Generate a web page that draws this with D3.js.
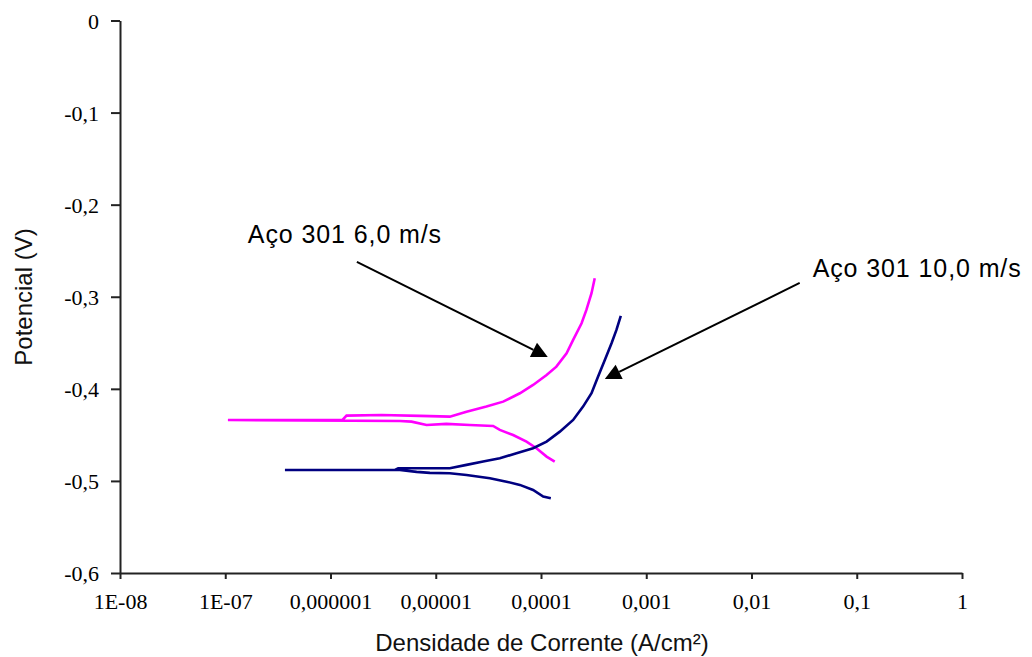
<!DOCTYPE html>
<html>
<head>
<meta charset="utf-8">
<script src="https://cdn.jsdelivr.net/npm/d3@7"></script>
<style>
  html, body { margin: 0; padding: 0; background: #fff; }
  svg { display: block; }
</style>
</head>
<body>
<svg id="chart" width="1032" height="657"></svg>
<script>
// Potentiodynamic polarization curves of 301 steel (current density vs potential)

// Tick values and labels
const xTicks = [1e-8, 1e-7, 1e-6, 1e-5, 1e-4, 1e-3, 1e-2, 1e-1, 1];
const xTickLabels = ["1E-08", "1E-07", "0,000001", "0,00001", "0,0001", "0,001", "0,01", "0,1", "1"];
const yTicks = [0, -0.1, -0.2, -0.3, -0.4, -0.5, -0.6];
const yTickLabels = ["0", "-0,1", "-0,2", "-0,3", "-0,4", "-0,5", "-0,6"];

// Series: Aço 301 6,0 m/s (current density A/cm², potential V)
const s6Current = [
  1.35e-4, 1.13e-4, 9.06e-5, 7.28e-5, 5.43e-5, 4.06e-5, 3.51e-5, 2.11e-5, 1.26e-5,
  8.18e-6, 5.89e-6, 4.56e-6, 1.06e-7, 1.30e-6, 1.42e-6, 3.05e-6, 7.06e-6, 1.36e-5,
  1.96e-5, 3.03e-5, 4.37e-5, 6.30e-5, 8.41e-5, 1.13e-4, 1.40e-4, 1.75e-4,
  2.02e-4, 2.43e-4, 2.70e-4, 3.02e-4, 3.24e-4
];
const s6Potential = [
  -0.479, -0.4736, -0.4645, -0.4573, -0.4501, -0.4446, -0.4403, -0.4392, -0.4381,
  -0.4392, -0.4356, -0.4349, -0.4338, -0.4338, -0.4291, -0.4284, -0.4294, -0.4302,
  -0.4248, -0.4193, -0.4139, -0.4048, -0.3958, -0.3849, -0.3759, -0.3614,
  -0.3469, -0.3288, -0.3143, -0.2962, -0.2799
];

// Series: Aço 301 10,0 m/s
const s10Current = [
  1.24e-4, 1.05e-4, 8.41e-5, 6.30e-5, 4.70e-5, 3.27e-5, 1.96e-5, 1.36e-5, 8.79e-6,
  6.58e-6, 4.56e-6, 3.69e-7, 4.10e-6, 4.40e-6, 1.36e-5, 1.96e-5, 2.82e-5, 4.06e-5,
  5.85e-5, 8.41e-5, 1.13e-4, 1.51e-4, 2.02e-4, 2.51e-4, 3.02e-4, 3.48e-4,
  4.04e-4, 4.68e-4, 5.21e-4, 5.73e-4
];
const s10Potential = [
  -0.5188, -0.5170, -0.5098, -0.5043, -0.5008, -0.4971, -0.4935, -0.4916, -0.4913,
  -0.4902, -0.4881, -0.4881, -0.4881, -0.4862, -0.4862, -0.4826, -0.4790, -0.4754,
  -0.4699, -0.4645, -0.4573, -0.4465, -0.4338, -0.4193, -0.4048, -0.3868,
  -0.3686, -0.3505, -0.3360, -0.3208
];

// Callout labels with their arrows (data coordinates)
const calloutText = ["Aço 301 6,0 m/s", "Aço 301 10,0 m/s"];
const calloutAt = [[1.64e-7, -0.2416], [0.0381, -0.2785]];
const arrowFrom = [[1.78e-6, -0.2622], [0.0287, -0.285]];
const arrowTo = [[1.16e-4, -0.3654], [4.04e-4, -0.3893]];

const svg = d3.select("#chart");

const x = d3.scaleLog().domain([1e-8, 1]).range([120, 962]);
const y = d3.scaleLinear().domain([-0.6, 0]).range([573, 20.5]);

// Axes
const tickFont = "'Liberation Serif', 'Times New Roman', serif";

const gx = svg.append("g")
  .attr("transform", `translate(0,${y(-0.6)})`)
  .call(d3.axisBottom(x)
    .tickValues(xTicks)
    .tickFormat((d, i) => xTickLabels[i])
    .tickSize(6)
    .tickSizeOuter(0)
    .tickPadding(14));

const gy = svg.append("g")
  .attr("transform", `translate(${x(1e-8)},0)`)
  .call(d3.axisLeft(y)
    .tickValues(yTicks)
    .tickFormat((d, i) => yTickLabels[i])
    .tickSize(9)
    .tickSizeOuter(0)
    .tickPadding(12));

[gx, gy].forEach(g => {
  g.select(".domain").attr("stroke", "#222").attr("stroke-width", 2);
  g.selectAll(".tick line").attr("stroke", "#222").attr("stroke-width", 2);
  g.selectAll(".tick text")
    .attr("fill", "#000")
    .style("font-family", tickFont)
    .style("font-size", "22px");
});
gy.selectAll(".tick text").attr("dy", "0.36em");

// Axis titles
svg.append("text")
  .attr("x", 542)
  .attr("y", 651)
  .attr("text-anchor", "middle")
  .style("font-family", "'Liberation Sans', Arial, sans-serif")
  .style("font-size", "24px")
  .attr("fill", "#111")
  .text("Densidade de Corrente (A/cm²)");

svg.append("text")
  .attr("transform", "translate(32,297) rotate(-90)")
  .attr("text-anchor", "middle")
  .style("font-family", "'Liberation Sans', Arial, sans-serif")
  .style("font-size", "24px")
  .attr("fill", "#111")
  .text("Potencial (V)");

// Curves
const line = d3.line().x(d => x(d[0])).y(d => y(d[1]));

const series = [
  { current: s6Current, potential: s6Potential, color: "#ff00ff" },
  { current: s10Current, potential: s10Potential, color: "#000080" }
];

svg.append("g").selectAll("path")
  .data(series)
  .join("path")
  .attr("fill", "none")
  .attr("stroke", d => d.color)
  .attr("stroke-width", 2.6)
  .attr("stroke-linejoin", "miter")
  .attr("d", d => line(d.current.map((c, i) => [c, d.potential[i]])));

// Callouts
const callouts = svg.append("g");
calloutText.forEach((t, i) => {
  const [x0, y0] = [x(arrowFrom[i][0]), y(arrowFrom[i][1])];
  const [x1, y1] = [x(arrowTo[i][0]), y(arrowTo[i][1])];
  const len = Math.hypot(x1 - x0, y1 - y0);
  const ux = (x1 - x0) / len, uy = (y1 - y0) / len;
  const head = 16, half = 8;
  const bx = x1 - ux * head, by = y1 - uy * head;

  callouts.append("line")
    .attr("x1", x0).attr("y1", y0)
    .attr("x2", bx).attr("y2", by)
    .attr("stroke", "#000")
    .attr("stroke-width", 2);

  callouts.append("polygon")
    .attr("points", [
      [x1, y1],
      [bx - uy * half, by + ux * half],
      [bx + uy * half, by - ux * half]
    ].map(p => p.join(",")).join(" "))
    .attr("fill", "#000");

  callouts.append("text")
    .attr("x", x(calloutAt[i][0]))
    .attr("y", y(calloutAt[i][1]))
    .style("font-family", "'Liberation Sans', Arial, sans-serif")
    .style("font-size", "25px")
    .style("letter-spacing", "0.9px")
    .attr("fill", "#000")
    .text(t);
});
</script>
</body>
</html>
